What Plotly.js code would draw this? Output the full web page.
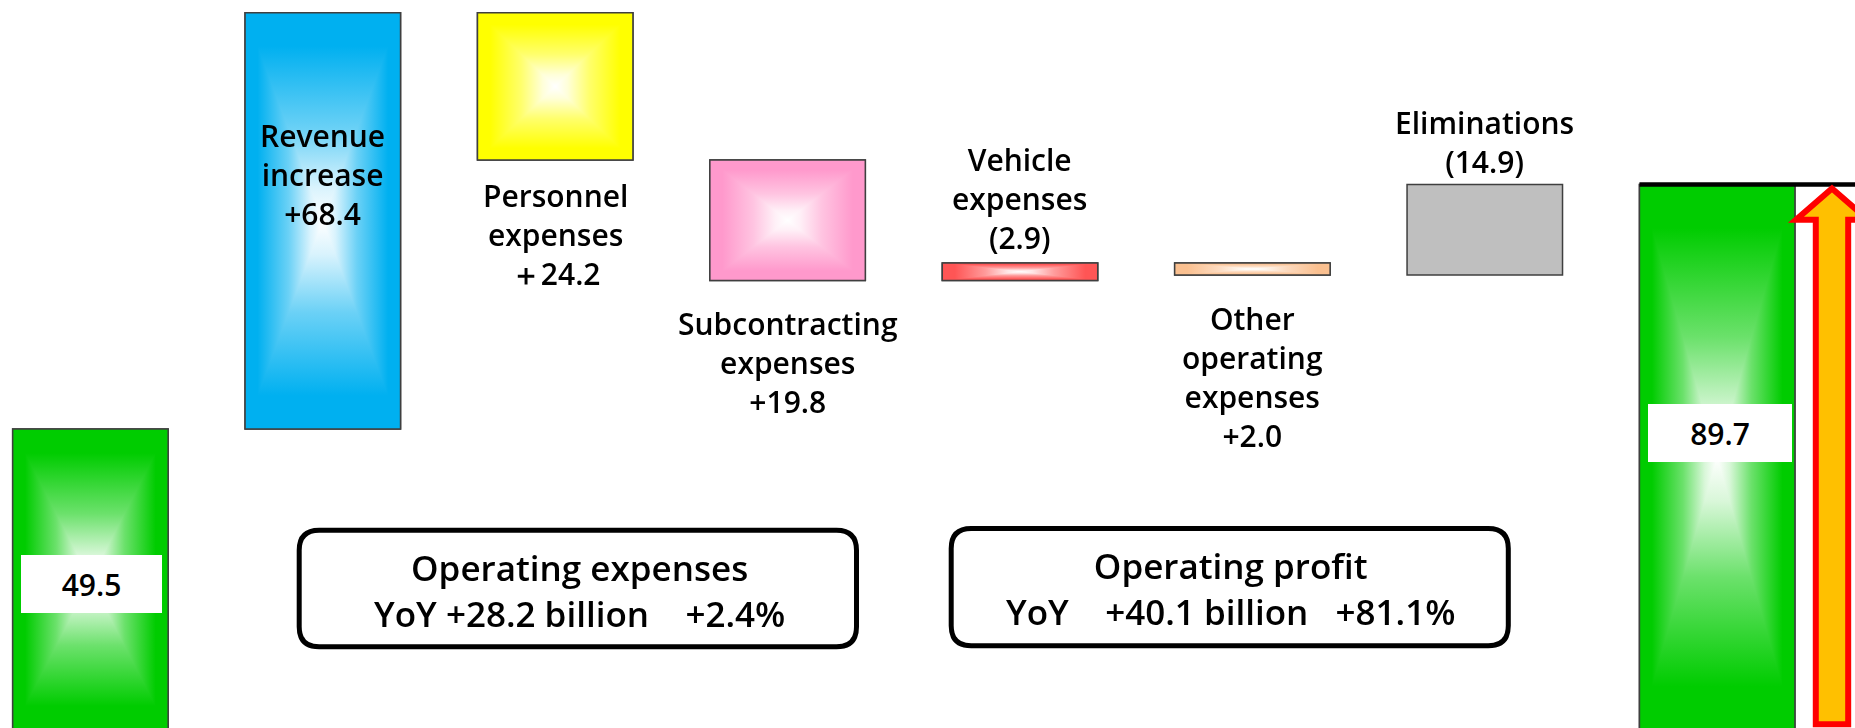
<!DOCTYPE html>
<html>
<head>
<meta charset="utf-8">
<script src="https://cdn.plot.ly/plotly-3.0.1.min.js"></script>
<style>
html,body{margin:0;padding:0;background:#ffffff;overflow:hidden}
#chart{width:1855px;height:728px}
</style>
</head>
<body>
<div id="chart"></div>
<script>
// ---------------- data ----------------
const categories = [
  'Operating profit (prior year)', 'Revenue increase', 'Personnel expenses',
  'Subcontracting expenses', 'Vehicle expenses', 'Other operating expenses',
  'Eliminations', 'Operating profit (current year)'
];
const startValue = 49.5;
const deltas = [68.4, -24.2, -19.8, 2.9, -2.0, 14.9];   // effect on operating profit
const endValue = 89.7;
const labelTexts = [
  '49.5',
  'Revenue<br>increase<br>+68.4',
  'Personnel<br>expenses<br>\uFF0B24.2',
  'Subcontracting<br>expenses<br>+19.8',
  'Vehicle<br>expenses<br>(2.9)',
  'Other<br>operating<br>expenses<br>+2.0',
  'Eliminations<br>(14.9)',
  '89.7'
];
const expenseBoxText = ['Operating expenses', 'YoY +28.2 billion\u00A0\u00A0\u00A0\u00A0+2.4%'];
const profitBoxText = ['Operating profit', 'YoY\u00A0\u00A0\u00A0\u00A0+40.1 billion\u00A0\u00A0\u00A0+81.1%'];

// ---------------- styles ----------------
const FONT = 'Open Sans, Noto Sans, DejaVu Sans, sans-serif';
const barColors = ['#00CC00', '#00B0F0', '#FFFF00', '#FF99CC', '#FF5555', '#FAC090', '#BFBFBF', '#00CC00'];
const glow = [true, true, true, true, true, true, false, true];
const BAR_W = 0.669;
const W = 1855, H = 728;

// ---------------- waterfall geometry from data ----------------
const xs = categories.map((_, i) => i);
const bases = [0];
const heights = [startValue];
let run = startValue;
deltas.forEach(d => {
  bases.push(Math.min(run, run + d));
  heights.push(Math.abs(d));
  run += d;
});
bases.push(0);
heights.push(endValue);
const tops = bases.map((b, i) => b + heights[i]);

const barTrace = {
  type: 'bar',
  x: xs,
  y: heights,
  base: bases,
  width: BAR_W,
  marker: {color: barColors, line: {color: '#3F3F3F', width: 1.5}},
  hoverinfo: 'skip',
  showlegend: false
};

// ---------------- labels ----------------
const txtFont = {family: FONT, size: 30, color: '#000000', weight: 600};
const annotations = [];
function lab(i, y, yshift) {
  annotations.push({x: xs[i], y: y, xref: 'x', yref: 'y', text: labelTexts[i], showarrow: false,
    xanchor: 'center', yanchor: 'middle', yshift: yshift, font: txtFont, align: 'center'});
}
// value boxes
annotations.push({x: xs[0], y: tops[0] * 0.487, xref: 'x', yref: 'y', text: labelTexts[0], showarrow: false,
  bgcolor: '#ffffff', width: 141, height: 58, borderpad: 0, borderwidth: 0, xshift: 1,
  font: {family: FONT, size: 30, color: '#000000', weight: 600}});
annotations.push({x: xs[7], y: tops[7] * 0.544, xref: 'x', yref: 'y', text: labelTexts[7], showarrow: false,
  bgcolor: '#ffffff', width: 144, height: 58, borderpad: 0, borderwidth: 0, xshift: 3,
  font: {family: FONT, size: 30, color: '#000000', weight: 600}});
lab(1, (bases[1] + tops[1]) / 2, 46.8);
lab(2, bases[2], -74.5);
lab(3, bases[3], -81.5);
lab(4, tops[4], 64.3);
lab(5, bases[5], -102);
lab(6, tops[6], 42.5);

// ---------------- summary boxes ----------------
const px = v => v / W;
const py = v => 1 - v / H;
function roundRect(x0, y0, x1, y1, r) {
  const P = (a, b) => px(a) + ',' + py(b);
  return 'M' + P(x0 + r, y0) + ' L' + P(x1 - r, y0) + ' Q' + P(x1, y0) + ' ' + P(x1, y0 + r) +
    ' L' + P(x1, y1 - r) + ' Q' + P(x1, y1) + ' ' + P(x1 - r, y1) +
    ' L' + P(x0 + r, y1) + ' Q' + P(x0, y1) + ' ' + P(x0, y1 - r) +
    ' L' + P(x0, y0 + r) + ' Q' + P(x0, y0) + ' ' + P(x0 + r, y0) + ' Z';
}
const boxFont = {family: FONT, size: 35, color: '#000000', weight: 600};
annotations.push({x: px(579), y: py(590.5), xref: 'paper', yref: 'paper', showarrow: false,
  text: expenseBoxText.join('<br>'), font: boxFont, align: 'center', xanchor: 'center', yanchor: 'middle'});
annotations.push({x: px(1230), y: py(588.7), xref: 'paper', yref: 'paper', showarrow: false,
  text: profitBoxText.join('<br>'), font: boxFont, align: 'center', xanchor: 'center', yanchor: 'middle'});

const shapes = [
  {type: 'path', xref: 'paper', yref: 'paper', path: roundRect(299.2, 530.2, 856.5, 646.8, 20),
   line: {color: '#000000', width: 5}, fillcolor: 'rgba(255,255,255,0)'},
  {type: 'path', xref: 'paper', yref: 'paper', path: roundRect(951.2, 528.5, 1508.3, 645.8, 20),
   line: {color: '#000000', width: 5}, fillcolor: 'rgba(255,255,255,0)'}
];

// top line of the current-year bar
const xMax = 7.593;
shapes.push({type: 'line', xref: 'x', yref: 'y', x0: xs[7] - BAR_W / 2, x1: xMax, y0: endValue, y1: endValue,
  line: {color: '#000000', width: 4.5}});

// block arrow next to current-year bar
const ax = xs[7] + 0.494, shaftHW = 0.0697, headHW = 0.155;
const apexY = endValue - 0.66, headY = endValue - 5.8, botY = 1.0;
shapes.push({type: 'path', xref: 'x', yref: 'y',
  path: 'M' + ax + ',' + apexY + ' L' + (ax + headHW) + ',' + headY + ' L' + (ax + shaftHW) + ',' + headY +
        ' L' + (ax + shaftHW) + ',' + botY + ' L' + (ax - shaftHW) + ',' + botY + ' L' + (ax - shaftHW) + ',' + headY +
        ' L' + (ax - headHW) + ',' + headY + ' Z',
  fillcolor: '#FFC000', line: {color: '#FF0000', width: 6}});

const layout = {
  width: W, height: H,
  margin: {l: 0, r: 0, t: 0, b: 0, pad: 0},
  paper_bgcolor: '#ffffff', plot_bgcolor: '#ffffff',
  showlegend: false,
  xaxis: {range: [-0.389, xMax], visible: false, showgrid: false, zeroline: false},
  yaxis: {range: [0.38, 120], visible: false, showgrid: false, zeroline: false},
  font: {family: FONT, size: 30, color: '#000000'},
  annotations: annotations,
  shapes: shapes
};

function mixWhite(hex, t) {
  const n = parseInt(hex.slice(1), 16);
  const r = (n >> 16) & 255, g = (n >> 8) & 255, b = n & 255;
  const m = v => Math.round(v + (255 - v) * t);
  return 'rgb(' + m(r) + ',' + m(g) + ',' + m(b) + ')';
}

Plotly.newPlot('chart', [barTrace], layout, {staticPlot: true, displayModeBar: false}).then(gd => {
  const NS = 'http://www.w3.org/2000/svg';
  const defs = gd.querySelector('svg.main-svg defs');
  function addGrad(id, color, vertical) {
    const g = document.createElementNS(NS, 'linearGradient');
    g.setAttribute('id', id);
    g.setAttribute('x1', '0'); g.setAttribute('y1', '0');
    g.setAttribute('x2', vertical ? '0' : '1'); g.setAttribute('y2', vertical ? '1' : '0');
    const stops = [[0, color], [0.08, color], [0.28, mixWhite(color, 0.42)], [0.42, mixWhite(color, 0.85)],
                   [0.5, '#ffffff'],
                   [0.58, mixWhite(color, 0.85)], [0.72, mixWhite(color, 0.42)], [0.92, color], [1, color]];
    stops.forEach(s => {
      const st = document.createElementNS(NS, 'stop');
      st.setAttribute('offset', s[0]);
      st.setAttribute('stop-color', s[1]);
      g.appendChild(st);
    });
    defs.appendChild(g);
  }
  const paths = gd.querySelectorAll('.barlayer .point path');
  paths.forEach((p, i) => {
    if (!glow[i]) return;
    addGrad('gh' + i, barColors[i], false);
    addGrad('gv' + i, barColors[i], true);
    p.style.fill = 'url(#gh' + i + ')';
    const c = p.cloneNode(true);
    c.style.fill = 'url(#gv' + i + ')';
    c.style.mixBlendMode = 'darken';
    p.parentNode.insertBefore(c, p.nextSibling);
  });
});
</script>
</body>
</html>
